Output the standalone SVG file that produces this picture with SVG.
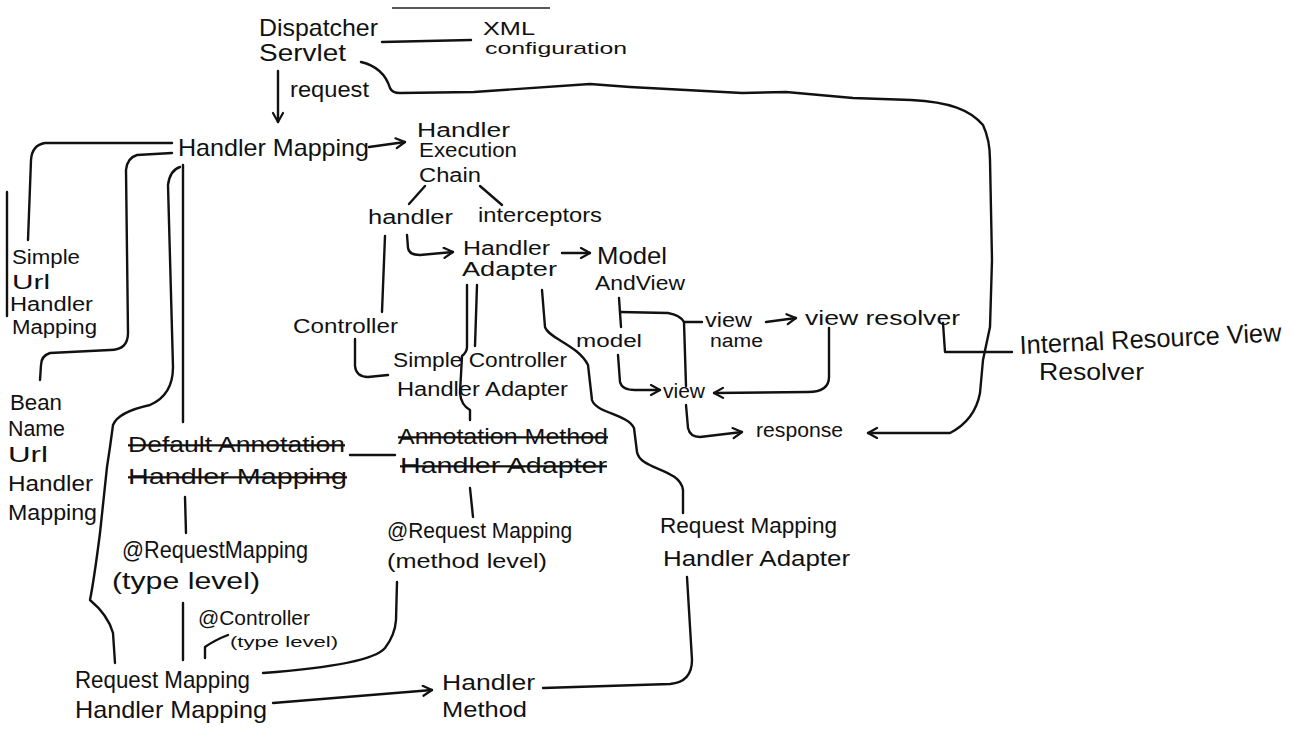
<svg xmlns="http://www.w3.org/2000/svg" width="1292" height="737" viewBox="0 0 1292 737">
<style>
  text { font-family: "Liberation Sans", "DejaVu Sans", sans-serif; fill: #111; }
  .c { fill: none; stroke: #111; stroke-width: 2.4; stroke-linecap: round; stroke-linejoin: round; }
  .a { marker-end: url(#arr); }
  .s { text-decoration: line-through; }
</style>
<defs>
  <marker id="arr" markerUnits="userSpaceOnUse" markerWidth="16" markerHeight="16" refX="11" refY="6" orient="auto">
    <path d="M2,1 L11,6 L2,11" fill="none" stroke="#111" stroke-width="2.2" stroke-linecap="round" stroke-linejoin="round"/>
  </marker>
</defs>
<rect x="0" y="0" width="1292" height="737" fill="#ffffff"/>
<line x1="392" y1="8" x2="550" y2="8" stroke="#222" stroke-width="1.6"/>

<g id="connectors">
  <path class="c" d="M382,42 L471,40"/>
  <path class="c a" d="M278,71 L278,122"/>
  <path class="c a" d="M369,147 L405,142"/>
  <path class="c" d="M425,186 L409,204"/>
  <path class="c" d="M480,186 L502,205"/>
  <path class="c a" d="M407,235 L408,248 Q409,255 420,255 L453,252"/>
  <path class="c" d="M385,236 L382,312"/>
  <path class="c" d="M355,339 L355,366 Q356,377 368,377 L388,375"/>
  <path class="c a" d="M562,253 L590,253"/>
  <path class="c" d="M467,285 L467,347 Q467,352 462,356 L460,393 Q461,405 470,410 L470,420"/>
  <path class="c" d="M477,285 L475,346"/>
  <path class="c" d="M542,290 L545,327 C548,338 578,345 588,365 L592,400 C596,413 627,414 634,428 L637,452 C640,470 680,468 683,490 L683,513"/>
  <path class="c" d="M619,298 L621,327"/>
  <path class="c" d="M620,312 L668,313 Q680,315 684,322 L702,322"/>
  <path class="c" d="M684,322 L686,386"/>
  <path class="c a" d="M766,322 L796,318"/>
  <path class="c a" d="M829,328 L829,377 Q829,392 808,392 L714,393"/>
  <path class="c a" d="M618,355 L620,382 Q622,390 635,390 L660,390"/>
  <path class="c a" d="M686,405 L688,428 Q690,437 700,437 L742,432"/>
  <path class="c a" d="M361,62 C378,66 386,75 390,88 Q392,93 400,93 L474,92 L590,84 L630,87 L742,93 L786,92 L853,98 L911,100 C950,102 970,110 983,125 Q990,140 990,160 L992,260 L990,327 L983,360 L980,393 Q975,420 950,433 L868,433"/>
  <path class="c" d="M943,323 L945,352 L1012,352"/>
  <path class="c" d="M7,192 L7,316"/>
  <path class="c" d="M172,143 L45,143 Q32,145 31,160 L28,240"/>
  <path class="c" d="M172,153 L137,155 Q127,158 126,170 L128,333 Q128,350 110,350 L50,353 Q41,356 41,365 L40,380"/>
  <path class="c" d="M183,165 L183,422"/>
  <path class="c" d="M180,167 Q170,170 168,185 L173,367 Q173,395 150,405 Q118,412 113,425 L110,447 L107,467 L100,533 Q94,580 90,600 Q108,615 113,633 L115,663"/>
  <path class="c" d="M350,455 L395,455"/>
  <path class="c" d="M185,497 L186,533"/>
  <path class="c" d="M183,603 L183,660"/>
  <path class="c" d="M228,635 Q215,640 205,647 L205,658"/>
  <path class="c" d="M470,488 L473,517"/>
  <path class="c" d="M263,673 C330,668 375,660 385,648 Q395,635 396,620 L397,582"/>
  <path class="c a" d="M273,703 L432,690"/>
  <path class="c" d="M687,577 L692,660 Q692,682 670,684 L543,688"/>
</g>

<g id="dispatcher-servlet">
  <text x="259" y="36" font-size="24" textLength="119" lengthAdjust="spacingAndGlyphs">Dispatcher</text>
  <text x="259" y="61" font-size="24" textLength="87" lengthAdjust="spacingAndGlyphs">Servlet</text>
</g>
<g id="xml-configuration">
  <text x="483" y="35" font-size="18" textLength="52" lengthAdjust="spacingAndGlyphs">XML</text>
  <text x="485" y="54" font-size="17" textLength="142" lengthAdjust="spacingAndGlyphs">configuration</text>
</g>
<g id="request-label">
  <text x="290" y="97" font-size="22" textLength="79" lengthAdjust="spacingAndGlyphs">request</text>
</g>
<g id="handler-mapping">
  <text x="178" y="156" font-size="24" textLength="191" lengthAdjust="spacingAndGlyphs">Handler Mapping</text>
</g>
<g id="handler-execution-chain">
  <text x="417" y="137" font-size="20" textLength="93" lengthAdjust="spacingAndGlyphs">Handler</text>
  <text x="419" y="157" font-size="20" textLength="98" lengthAdjust="spacingAndGlyphs">Execution</text>
  <text x="419" y="182" font-size="20" textLength="62" lengthAdjust="spacingAndGlyphs">Chain</text>
</g>
<g id="handler">
  <text x="368" y="224" font-size="20" textLength="85" lengthAdjust="spacingAndGlyphs">handler</text>
</g>
<g id="interceptors">
  <text x="478" y="222" font-size="20" textLength="124" lengthAdjust="spacingAndGlyphs">interceptors</text>
</g>
<g id="handler-adapter">
  <text x="463" y="255" font-size="20" textLength="87" lengthAdjust="spacingAndGlyphs">Handler</text>
  <text x="462" y="276" font-size="20" textLength="95" lengthAdjust="spacingAndGlyphs">Adapter</text>
</g>
<g id="model-and-view">
  <text x="597" y="264" font-size="24" textLength="70" lengthAdjust="spacingAndGlyphs">Model</text>
  <text x="595" y="290" font-size="20" textLength="90" lengthAdjust="spacingAndGlyphs">AndView</text>
</g>
<g id="controller">
  <text x="293" y="333" font-size="20" textLength="105" lengthAdjust="spacingAndGlyphs">Controller</text>
</g>
<g id="simple-controller-handler-adapter">
  <text x="393" y="367" font-size="20" textLength="174" lengthAdjust="spacingAndGlyphs">Simple Controller</text>
  <text x="397" y="396" font-size="20" textLength="171" lengthAdjust="spacingAndGlyphs">Handler Adapter</text>
</g>
<g id="model">
  <text x="576" y="347" font-size="18" textLength="66" lengthAdjust="spacingAndGlyphs">model</text>
</g>
<g id="view-name">
  <text x="705" y="327" font-size="20" textLength="47" lengthAdjust="spacingAndGlyphs">view</text>
  <text x="710" y="347" font-size="18" textLength="53" lengthAdjust="spacingAndGlyphs">name</text>
</g>
<g id="view-resolver">
  <text x="805" y="325" font-size="20" textLength="155" lengthAdjust="spacingAndGlyphs">view resolver</text>
</g>
<g id="view">
  <text x="663" y="398" font-size="20" textLength="42" lengthAdjust="spacingAndGlyphs">view</text>
</g>
<g id="response">
  <text x="756" y="437" font-size="20" textLength="87" lengthAdjust="spacingAndGlyphs">response</text>
</g>
<g id="internal-resource-view-resolver">
  <text x="1020" y="354" font-size="26" textLength="262" lengthAdjust="spacingAndGlyphs" transform="rotate(-2.8 1020 354)">Internal Resource View</text>
  <text x="1039" y="380" font-size="24" textLength="105" lengthAdjust="spacingAndGlyphs">Resolver</text>
</g>
<g id="simple-url-handler-mapping">
  <text x="12" y="264" font-size="20" textLength="68" lengthAdjust="spacingAndGlyphs">Simple</text>
  <text x="12" y="289" font-size="20" textLength="38" lengthAdjust="spacingAndGlyphs">Url</text>
  <text x="10" y="311" font-size="20" textLength="83" lengthAdjust="spacingAndGlyphs">Handler</text>
  <text x="12" y="334" font-size="20" textLength="85" lengthAdjust="spacingAndGlyphs">Mapping</text>
</g>
<g id="bean-name-url-handler-mapping">
  <text x="10" y="410" font-size="22" textLength="52" lengthAdjust="spacingAndGlyphs">Bean</text>
  <text x="8" y="436" font-size="22" textLength="57" lengthAdjust="spacingAndGlyphs">Name</text>
  <text x="8" y="462" font-size="22" textLength="40" lengthAdjust="spacingAndGlyphs">Url</text>
  <text x="8" y="491" font-size="22" textLength="85" lengthAdjust="spacingAndGlyphs">Handler</text>
  <text x="8" y="520" font-size="22" textLength="89" lengthAdjust="spacingAndGlyphs">Mapping</text>
</g>
<g id="default-annotation-handler-mapping">
  <text class="s" x="128" y="452" font-size="22" textLength="217" lengthAdjust="spacingAndGlyphs">Default Annotation</text>
  <text class="s" x="128" y="484" font-size="22" textLength="219" lengthAdjust="spacingAndGlyphs">Handler Mapping</text>
</g>
<g id="annotation-method-handler-adapter">
  <text class="s" x="398" y="444" font-size="22" textLength="210" lengthAdjust="spacingAndGlyphs">Annotation Method</text>
  <text class="s" x="400" y="473" font-size="22" textLength="207" lengthAdjust="spacingAndGlyphs">Handler Adapter</text>
</g>
<g id="request-mapping-type-level">
  <text x="122" y="558" font-size="24" textLength="186" lengthAdjust="spacingAndGlyphs">@RequestMapping</text>
  <text x="112" y="589" font-size="24" textLength="148" lengthAdjust="spacingAndGlyphs">(type level)</text>
</g>
<g id="controller-type-level">
  <text x="198" y="625" font-size="20" textLength="112" lengthAdjust="spacingAndGlyphs">@Controller</text>
  <text x="230" y="647" font-size="15" textLength="108" lengthAdjust="spacingAndGlyphs">(type level)</text>
</g>
<g id="request-mapping-method-level">
  <text x="387" y="538" font-size="22" textLength="185" lengthAdjust="spacingAndGlyphs">@Request Mapping</text>
  <text x="387" y="568" font-size="20" textLength="160" lengthAdjust="spacingAndGlyphs">(method level)</text>
</g>
<g id="request-mapping-handler-adapter">
  <text x="660" y="533" font-size="22" textLength="177" lengthAdjust="spacingAndGlyphs">Request Mapping</text>
  <text x="663" y="566" font-size="22" textLength="187" lengthAdjust="spacingAndGlyphs">Handler Adapter</text>
</g>
<g id="request-mapping-handler-mapping">
  <text x="75" y="688" font-size="24" textLength="175" lengthAdjust="spacingAndGlyphs">Request Mapping</text>
  <text x="75" y="718" font-size="24" textLength="192" lengthAdjust="spacingAndGlyphs">Handler Mapping</text>
</g>
<g id="handler-method">
  <text x="442" y="690" font-size="22" textLength="93" lengthAdjust="spacingAndGlyphs">Handler</text>
  <text x="442" y="717" font-size="22" textLength="85" lengthAdjust="spacingAndGlyphs">Method</text>
</g>
</svg>
